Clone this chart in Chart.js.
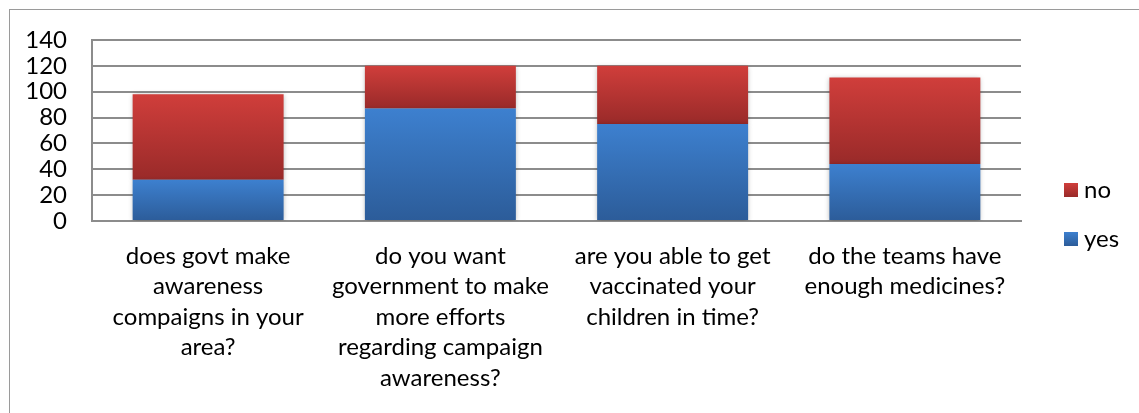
<!DOCTYPE html>
<html>
<head>
<meta charset="utf-8">
<script src="https://cdn.jsdelivr.net/npm/chart.js@4"></script>
<style>
    html, body { margin: 0; padding: 0; background: #fff; overflow: hidden; }
    .wrap { position: relative; width: 1139px; height: 413px; }
    .frame {
        position: absolute; left: 9px; top: 9px; width: 2000px; height: 2000px;
        border: 1.5px solid #9a9a9a; box-sizing: border-box;
    }
    canvas { position: absolute; left: 0; top: 0; }
</style>
</head>
<body>
<div class="wrap">
    <div class="frame"></div>
    <canvas id="chart" width="1139" height="413"></canvas>
</div>
<script>
const categories = [
    ['does govt make', 'awareness', 'compaigns in your', 'area?'],
    ['do you want', 'government to make', 'more efforts', 'regarding campaign', 'awareness?'],
    ['are you able to get', 'vaccinated your', 'children in time?'],
    ['do the teams have', 'enough medicines?'],
];
const yesValues = [32, 87, 75, 44];
const noValues = [66, 33, 45, 67];
const yTicks = [0, 20, 40, 60, 80, 100, 120, 140];

const colors = {
    yesTop: '#3d80cf', yesBottom: '#2c5c99',
    noTop: '#d03e3b', noBottom: '#992a29',
    grid: '#8c8c8c',
};

const FONT = 'Lato, "Open Sans", sans-serif';
const FONT_SIZE = 24;

const barGradient = (context, top, bottom) => {
    const { ctx, chartArea, scales } = context.chart;
    if (!chartArea || context.type !== 'data') return top;
    const i = context.dataIndex;
    const base = context.datasetIndex === 0 ? 0 : yesValues[i];
    const size = context.datasetIndex === 0 ? yesValues[i] : noValues[i];
    const y0 = scales.y.getPixelForValue(base + size);
    const y1 = scales.y.getPixelForValue(base);
    const g = ctx.createLinearGradient(0, y0, 0, y1);
    g.addColorStop(0, top);
    g.addColorStop(1, bottom);
    return g;
};

const barShadow = {
    id: 'barShadow',
    beforeDatasetsDraw(chart) {
        const ctx = chart.ctx;
        ctx.save();
        ctx.shadowColor = 'rgba(0, 0, 0, 0.3)';
        ctx.shadowBlur = 5;
        ctx.shadowOffsetY = 1;
    },
    afterDatasetsDraw(chart) {
        chart.ctx.restore();
    },
};

// legend drawn at the right, "no" above "yes" as in the sheet
const sideLegend = {
    id: 'sideLegend',
    afterDraw(chart) {
        const ctx = chart.ctx;
        const items = [
            { text: 'no', top: colors.noTop, bottom: colors.noBottom, y: 190 },
            { text: 'yes', top: colors.yesTop, bottom: colors.yesBottom, y: 239 },
        ];
        ctx.save();
        ctx.font = `${FONT_SIZE}px ${FONT}`;
        ctx.textBaseline = 'middle';
        items.forEach((item) => {
            const g = ctx.createLinearGradient(0, item.y - 7, 0, item.y + 7);
            g.addColorStop(0, item.top);
            g.addColorStop(1, item.bottom);
            ctx.fillStyle = g;
            ctx.fillRect(1064, item.y - 7, 14, 14);
            ctx.fillStyle = '#000';
            ctx.fillText(item.text, 1084, item.y);
        });
        ctx.restore();
    },
};

new Chart(document.getElementById('chart'), {
    type: 'bar',
    data: {
        labels: categories,
        datasets: [
            {
                label: 'yes',
                data: yesValues,
                backgroundColor: (c) => barGradient(c, colors.yesTop, colors.yesBottom),
                borderWidth: 0,
                categoryPercentage: 1,
                barPercentage: 0.65,
            },
            {
                label: 'no',
                data: noValues,
                backgroundColor: (c) => barGradient(c, colors.noTop, colors.noBottom),
                borderWidth: 0,
                categoryPercentage: 1,
                barPercentage: 0.65,
            },
        ],
    },
    options: {
        responsive: false,
        animation: false,
        layout: { padding: { left: 0, top: 40, right: 118, bottom: 0 } },
        plugins: {
            legend: { display: false },
            tooltip: { enabled: false },
        },
        scales: {
            x: {
                stacked: true,
                grid: { display: false, drawTicks: false },
                border: { display: true, color: colors.grid, width: 2 },
                ticks: {
                    color: '#000',
                    padding: 20,
                    maxRotation: 0,
                    autoSkip: false,
                    font: { family: FONT, size: FONT_SIZE, lineHeight: '30.5px' },
                },
                afterFit: (scale) => { scale.height = 192; },
            },
            y: {
                stacked: true,
                min: 0,
                max: 140,
                afterBuildTicks: (scale) => { scale.ticks = yTicks.map((v) => ({ value: v })); },
                grid: { color: colors.grid, lineWidth: 2, drawTicks: false },
                border: { display: true, color: colors.grid, width: 2 },
                ticks: {
                    color: '#000',
                    padding: 25,
                    autoSkip: false,
                    font: { family: FONT, size: FONT_SIZE, lineHeight: 1 },
                },
                afterFit: (scale) => { scale.width = 92; },
            },
        },
    },
    plugins: [barShadow, sideLegend],
});
</script>
</body>
</html>
